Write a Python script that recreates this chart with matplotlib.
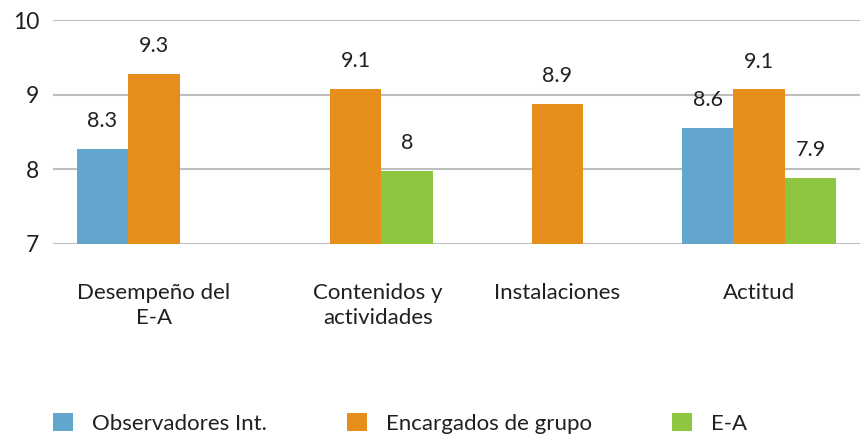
import matplotlib
matplotlib.use("Agg")
import matplotlib.pyplot as plt
import matplotlib.transforms as mtransforms
import numpy as np

plt.rcParams['font.family'] = ['Lato', 'DejaVu Sans']

categories = ["Desempeño del\nE-A", "Contenidos y\nactividades", "Instalaciones", "Actitud"]
series = ["Observadores Int.", "Encargados de grupo", "E-A"]
observadores = [8.27, np.nan, np.nan, 8.56]
encargados = [9.28, 9.08, 8.88, 9.07]
ea = [np.nan, 7.98, np.nan, 7.88]
labels_obs = ["8.3", "", "", "8.6"]
labels_enc = ["9.3", "9.1", "8.9", "9.1"]
labels_ea = ["", "8", "", "7.9"]
colors = ["#63A6CD", "#E68E1C", "#8DC63F"]

fig = plt.figure(figsize=(8.6, 4.34), dpi=100)
ax = fig.add_axes([53 / 860, 1 - 244 / 434, 807 / 860, 224 / 434])

x = np.arange(len(categories))
w = 0.255
for i, (vals, labs) in enumerate([(observadores, labels_obs),
                                   (encargados, labels_enc),
                                   (ea, labels_ea)]):
    pos = x + (i - 1) * w
    v = np.array(vals, dtype=float)
    ax.bar(pos, np.nan_to_num(v - 7), bottom=7, width=w,
           color=colors[i], label=series[i], zorder=3)
    for p, val, lab in zip(pos, v, labs):
        if lab:
            ax.text(p, val + 0.24, lab, ha='center', va='bottom',
                    fontsize=15.5, color='#231F20')

ax.set_xlim(-0.5, 3.5)
ax.set_ylim(7, 10)
ax.set_yticks([7, 8, 9, 10])
ax.yaxis.grid(True, color='#BDBDBD', linewidth=1.5, zorder=0)
ax.set_xticks(x)
ax.set_xticklabels(categories, fontsize=16, color='#231F20', linespacing=1.35)
ax.tick_params(axis='y', labelsize=16.5, colors='#231F20', length=0, pad=10)
ax.tick_params(axis='x', length=0, pad=28)
for s in ax.spines.values():
    s.set_visible(False)

# second category label sits a bit right of its group in the original
lbl = ax.get_xticklabels()[1]
lbl.set_transform(lbl.get_transform() +
                  mtransforms.ScaledTranslation(0.22, 0, fig.dpi_scale_trans))

fig.legend(loc='lower left', bbox_to_anchor=(33 / 860, -0.045), ncol=3,
           frameon=False, fontsize=16, handlelength=0.9, handleheight=0.9,
           handletextpad=0.85, columnspacing=3.6, labelcolor='#231F20')

fig.savefig("out.png", dpi=100)
